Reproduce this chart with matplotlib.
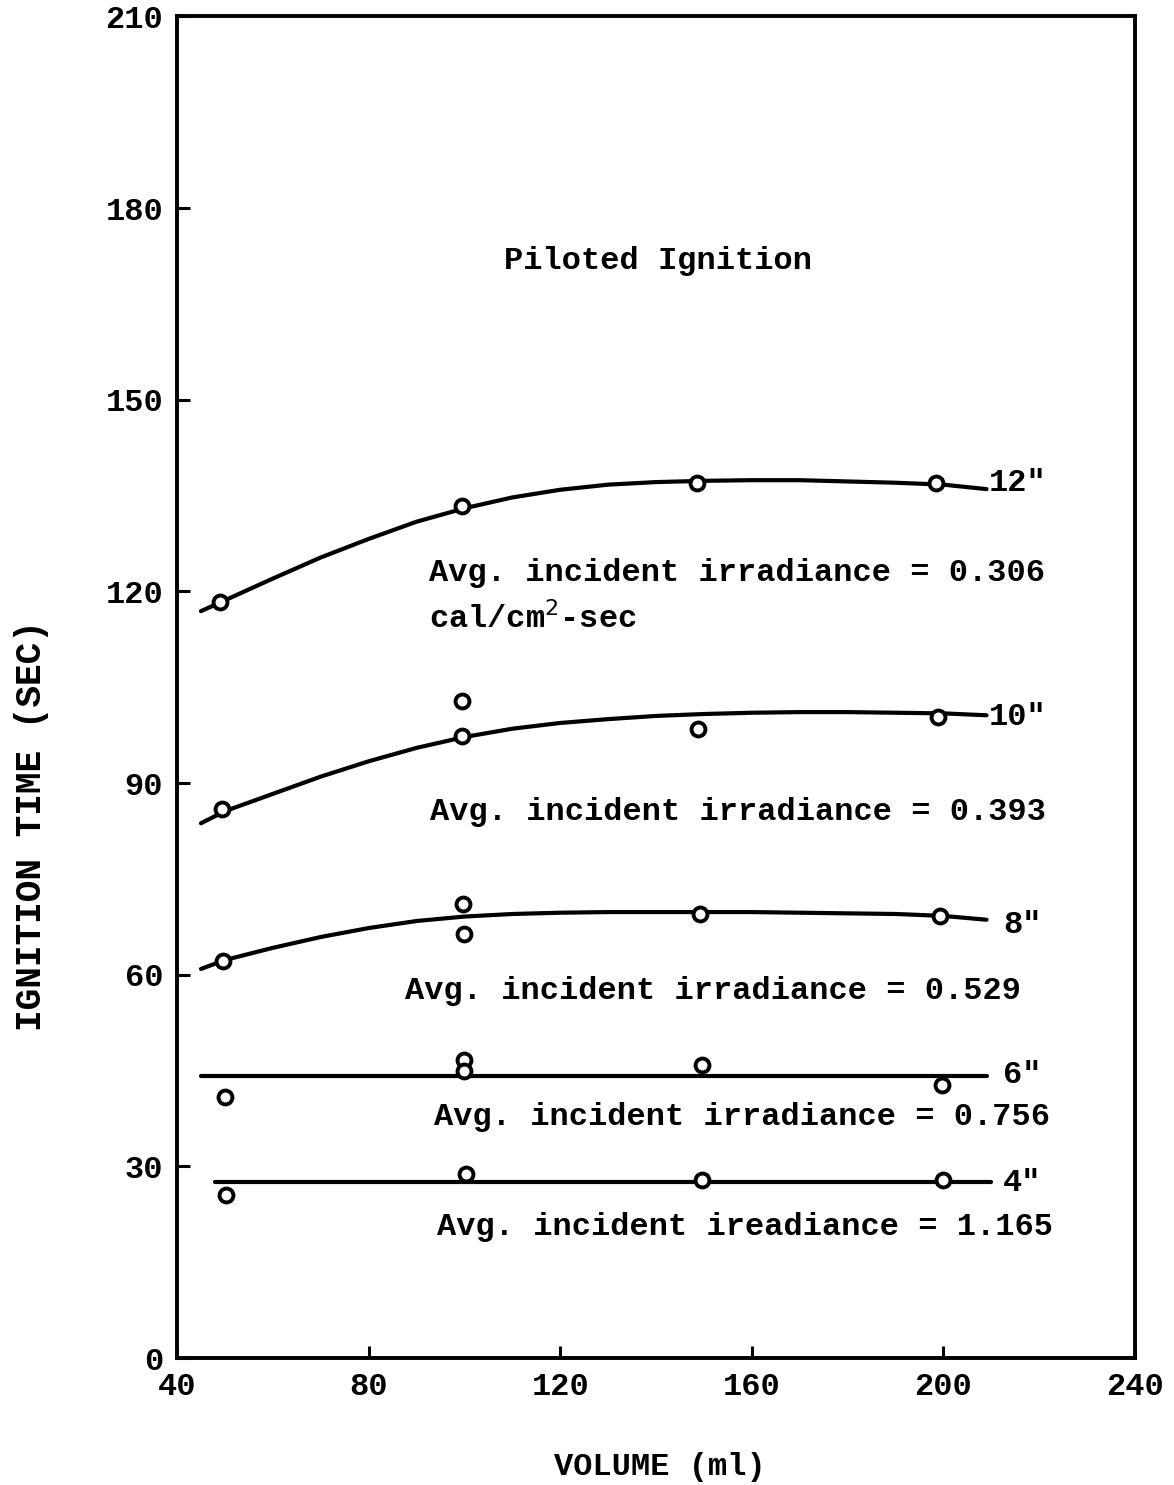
"""
Piloted ignition time vs. volume, recreated from a scanned report figure.
"""

import matplotlib
matplotlib.use("Agg")
import matplotlib.pyplot as plt

FONT = "Liberation Mono"

# measured points (volume ml, ignition time sec)
pts_12_x = [49, 99.5, 148.5, 198.5]
pts_12_y = [118.3, 133.3, 137.0, 137.0]
pts_10_x = [49.4, 99.5, 99.5, 148.8, 198.9]
pts_10_y = [85.9, 102.8, 97.3, 98.4, 100.3]
pts_8_x = [49.6, 99.7, 99.9, 149.2, 199.3]
pts_8_y = [62.2, 71.1, 66.4, 69.5, 69.2]
pts_6_x = [50.0, 100.0, 100.0, 149.6, 199.8]
pts_6_y = [40.9, 46.6, 45.0, 45.9, 42.7]
pts_4_x = [50.2, 100.4, 149.6, 200.0]
pts_4_y = [25.5, 28.8, 27.8, 27.8]

# hand-drawn curves
curve_x = [45, 50, 60, 70, 80, 90, 100, 110, 120, 130, 140, 150, 160,
           170, 180, 190, 200, 209]
curve_12 = [116.9, 118.6, 122.0, 125.3, 128.2, 130.9, 133.0, 134.7, 135.9,
            136.7, 137.1, 137.3, 137.4, 137.4, 137.2, 137.0, 136.7, 136.0]
curve_10 = [83.7, 85.6, 88.3, 91.0, 93.4, 95.5, 97.2, 98.5, 99.4, 100.0,
            100.5, 100.8, 101.0, 101.1, 101.1, 101.0, 100.9, 100.6]
curve_8 = [60.9, 62.3, 64.2, 65.9, 67.3, 68.4, 69.1, 69.5, 69.7, 69.8,
           69.8, 69.8, 69.8, 69.7, 69.6, 69.5, 69.2, 68.6]
line_6_x = [45, 209]
line_6_y = [44.2, 44.2]
line_4_x = [48, 210]
line_4_y = [27.5, 27.5]

curve_labels = ['12"', '10"', '8"', '6"', '4"']
label_y = [137.0, 100.3, 67.7, 44.3, 27.4]

fig = plt.figure(figsize=(11.74, 14.85), dpi=100)
ax = fig.add_axes([0.1508, 0.0855, 0.8160, 0.9035])

lw = 3.0
for cx, cy in [(curve_x, curve_12), (curve_x, curve_10), (curve_x, curve_8),
               (line_6_x, line_6_y), (line_4_x, line_4_y)]:
    ax.plot(cx, cy, color="black", lw=lw, solid_capstyle="round",
            solid_joinstyle="round")

for px, py in [(pts_12_x, pts_12_y), (pts_10_x, pts_10_y), (pts_8_x, pts_8_y),
               (pts_6_x, pts_6_y), (pts_4_x, pts_4_y)]:
    ax.plot(px, py, "o", ms=10, mfc="white", mec="black", mew=2.8, zorder=3)

for lab, ly in zip(curve_labels, label_y):
    xpos = 209.5 if lab in ('12"', '10"') else 212.5
    ax.text(xpos, ly, lab, family=FONT, fontsize=23, fontweight="bold",
            va="center", ha="left")

txt = dict(family=FONT, fontsize=23, fontweight="bold", va="center", ha="left")
ax.text(140.4, 171.7, "Piloted Ignition", **dict(txt, ha="center"))
ax.text(92.5, 122.8, "Avg. incident irradiance = 0.306", **txt)
ax.text(92.5, 115.8, r"cal/cm$^{2}$-sec", **txt)
ax.text(92.8, 85.5, "Avg. incident irradiance = 0.393", **txt)
ax.text(87.6, 57.5, "Avg. incident irradiance = 0.529", **txt)
ax.text(93.6, 37.8, "Avg. incident irradiance = 0.756", **txt)
ax.text(94.2, 20.5, "Avg. incident ireadiance = 1.165", **txt)

ax.set_xlim(40, 240)
ax.set_ylim(0, 210)
ax.set_xticks([40, 80, 120, 160, 200, 240])
ax.set_yticks([0, 30, 60, 90, 120, 150, 180, 210])
ax.tick_params(direction="in", length=9, width=2.2, labelsize=23, pad=10)
for lab in ax.get_xticklabels() + ax.get_yticklabels():
    lab.set_family(FONT)
    lab.set_fontweight("bold")
for sp in ax.spines.values():
    sp.set_linewidth(2.8)

fig.text(0.562, 0.012, "VOLUME (ml)", family=FONT, fontsize=23,
         fontweight="bold", ha="center", va="center")
fig.text(0.027, 0.444, "IGNITION TIME (SEC)", family=FONT, fontsize=26,
         fontweight="bold", ha="center", va="center", rotation=90)

plt.savefig("out.png", dpi=100)
plt.close()
